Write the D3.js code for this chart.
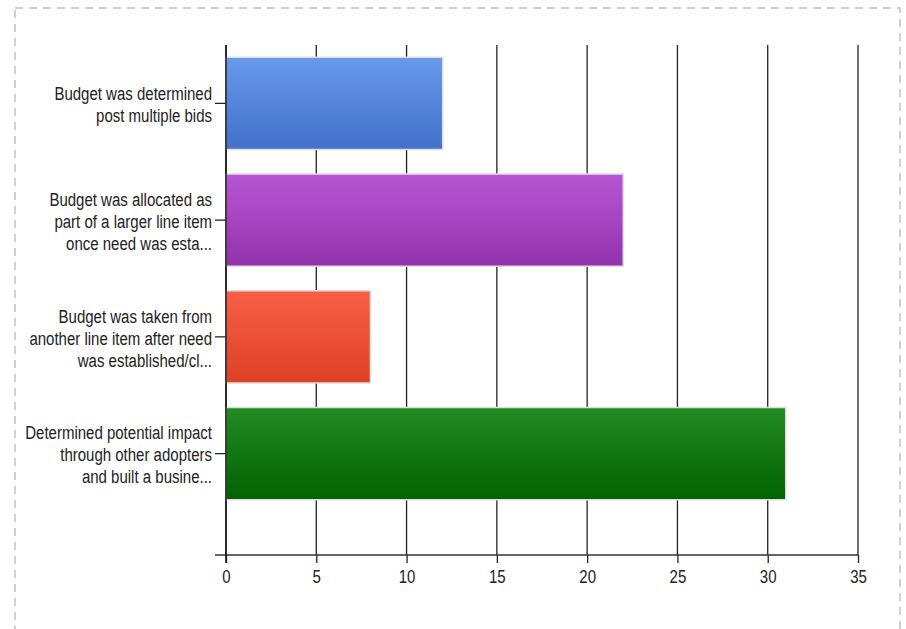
<!DOCTYPE html>
<html>
<head>
<meta charset="utf-8">
<script src="https://cdn.jsdelivr.net/npm/d3@7"></script>
<style>
    body { margin: 0; background: #fff; }
    svg text { font-family: "Liberation Sans", Arial, sans-serif; fill: #222; }
</style>
</head>
<body>
<div id="chart"></div>
<script>

// chart data
let categories = [
    ["Budget was determined", "post multiple bids"],
    ["Budget was allocated as", "part of a larger line item", "once need was esta..."],
    ["Budget was taken from", "another line item after need", "was established/cl..."],
    ["Determined potential impact", "through other adopters", "and built a busine..."]
];
let values = [12, 22, 8, 31];
let xTicks = [0, 5, 10, 15, 20, 25, 30, 35];
let barColors = [
    ["#6898ea", "#4371cb"],
    ["#b756d3", "#9431ad"],
    ["#f95f45", "#dc4124"],
    ["#238c23", "#006300"]
];

let width = 906, height = 629;
let margin = {top: 45, left: 226, right: 48, bottom: 74};
let plotW = width - margin.left - margin.right;
let plotH = height - margin.top - margin.bottom;
// no narrow font installed, so squeeze the text sideways
let narrow = "scale(0.79,1)";
let fontSize = 19;

let svg = d3.select("#chart").append("svg")
    .attr("width", width)
    .attr("height", height);

// dashed frame
svg.append("rect")
    .attr("x", 15)
    .attr("y", 8)
    .attr("width", 885)
    .attr("height", 660)
    .attr("fill", "none")
    .attr("stroke", "#cfcfcf")
    .attr("stroke-width", 2)
    .attr("stroke-dasharray", "8,6");

let defs = svg.append("defs");
barColors.forEach(function (c, i) {
    let g = defs.append("linearGradient")
        .attr("id", "grad" + i)
        .attr("x1", 0).attr("y1", 0)
        .attr("x2", 0).attr("y2", 1);
    g.append("stop").attr("offset", "0%").attr("stop-color", c[0]);
    g.append("stop").attr("offset", "100%").attr("stop-color", c[1]);
});

let g = svg.append("g")
    .attr("transform", "translate(" + margin.left + "," + margin.top + ")");

// scales
let x = d3.scaleLinear()
    .domain([0, 35])
    .range([0, plotW]);

let y = d3.scaleBand()
    .domain(d3.range(categories.length))
    .range([0, 467])
    .paddingInner(0.21)
    .paddingOuter(0.105);

// vertical grid lines
g.selectAll(".grid")
    .data(xTicks)
    .enter()
    .append("line")
    .attr("class", "grid")
    .attr("x1", d => x(d))
    .attr("x2", d => x(d))
    .attr("y1", 0)
    .attr("y2", plotH)
    .attr("stroke", "#222")
    .attr("stroke-width", 1.3);

// bars
g.selectAll(".bar")
    .data(values)
    .enter()
    .append("rect")
    .attr("class", "bar")
    .attr("x", x(0))
    .attr("y", (d, i) => y(i))
    .attr("width", d => x(d))
    .attr("height", y.bandwidth())
    .attr("fill", (d, i) => "url(#grad" + i + ")")
    .attr("stroke", "#dedede")
    .attr("stroke-width", 1.5);

// x axis
let xAxis = d3.axisBottom(x)
    .tickValues(xTicks)
    .tickSize(8)
    .tickPadding(7);

let xg = g.append("g")
    .attr("transform", "translate(0," + plotH + ")")
    .call(xAxis);
xg.select(".domain").remove();
xg.selectAll(".tick line").attr("stroke", "#222").attr("stroke-width", 1.3);
xg.selectAll(".tick text")
    .attr("font-size", fontSize)
    .attr("fill", "#222")
    .attr("transform", narrow);

g.append("line")
    .attr("x1", -11)
    .attr("x2", plotW)
    .attr("y1", plotH)
    .attr("y2", plotH)
    .attr("stroke", "#333")
    .attr("stroke-width", 1.5);

// y axis line
g.append("line")
    .attr("x1", 0).attr("x2", 0)
    .attr("y1", 0).attr("y2", plotH + 8)
    .attr("stroke", "#111")
    .attr("stroke-width", 1.5);

// category ticks and labels
let cat = g.selectAll(".cat")
    .data(categories)
    .enter()
    .append("g")
    .attr("class", "cat")
    .attr("transform", (d, i) => "translate(0," + (y(i) + y.bandwidth() / 2) + ")");

cat.append("line")
    .attr("x1", -11)
    .attr("x2", 0)
    .attr("stroke", "#222")
    .attr("stroke-width", 1.3);

cat.append("g")
    .attr("transform", "translate(-14,1) " + narrow)
    .append("text")
    .attr("text-anchor", "end")
    .attr("font-size", fontSize)
    .each(function (d) {
        let t = d3.select(this);
        let n = d.length;
        d.forEach(function (line, j) {
            t.append("tspan")
                .attr("x", 0)
                .attr("y", (j - (n - 1) / 2) * 22)
                .attr("dy", "0.35em")
                .text(line);
        });
    });

</script>
</body>
</html>
